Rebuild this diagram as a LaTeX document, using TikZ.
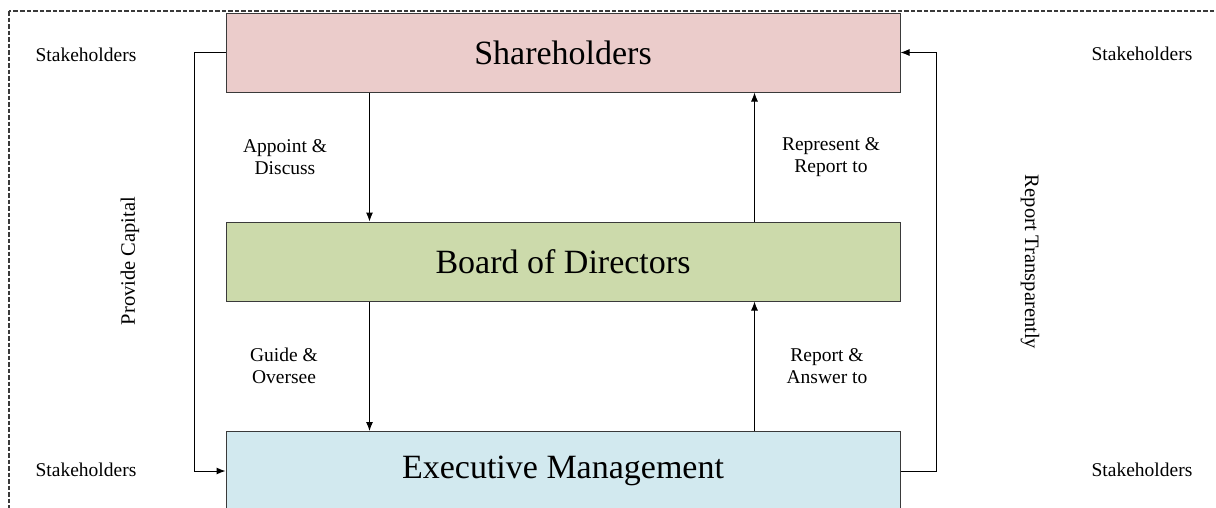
\documentclass[tikz,border=0pt]{standalone}
\usepackage{fontspec}
\setmainfont{Liberation Serif}
\usetikzlibrary{arrows.meta}
\definecolor{shfill}{HTML}{EBCCCB}
\definecolor{bdfill}{HTML}{CCDAAB}
\definecolor{exfill}{HTML}{D2E9EF}
\definecolor{edge}{HTML}{3A3A3A}
\tikzset{
  x=1pt, y=-1pt,
  tier/.style={draw=edge, line width=1pt, minimum width=674pt, minimum height=79pt,
    inner sep=0pt, font=\fontsize{34}{40}\selectfont},
  lbl/.style={align=center, font=\fontsize{19.5}{22}\selectfont, inner sep=0pt},
  side/.style={font=\fontsize{19.5}{22}\selectfont, inner sep=0pt},
  vlbl/.style={font=\fontsize{20.5}{24}\selectfont, inner sep=0pt},
  arr/.style={draw=black, line width=1pt, -{Latex[length=9pt,width=7pt]}},
  link/.style={draw=black, line width=1pt}
}
\begin{document}
\begin{tikzpicture}
\useasboundingbox (0,0) rectangle (1216,507);
\begin{scope}
\clip (0,0) rectangle (1216,507);
% outer dashed frame, running past the page edge on the right and bottom
\draw[dash pattern=on 4.5pt off 2pt, draw=edge, line width=1.1pt] (9,11) rectangle (1230,530);

% three governance tiers
\node[tier, fill=shfill] (sh) at (563,52.5) {Shareholders};
\node[tier, fill=bdfill] (bd) at (563,261.5) {Board of Directors};
\node[tier, fill=exfill] (ex) at (563,471) {Executive Management};

% downward flows
\draw[arr] ([xshift=144pt]sh.south west) -- ([xshift=144pt]bd.north west);
\draw[arr] ([xshift=144pt]bd.south west) -- ([xshift=144pt]ex.north west);
% upward flows
\draw[arr] ([xshift=529pt]bd.north west) -- ([xshift=529pt]sh.south west);
\draw[arr] ([xshift=529pt]ex.north west) -- ([xshift=529pt]bd.south west);

% outer loops
\coordinate (lx) at (194,0);
\coordinate (rx) at (936,0);
\draw[arr] (sh.west) -- (sh.west -| lx) -- (ex.west -| lx) -- (ex.west);
\draw[arr] (ex.east) -- (ex.east -| rx) -- (sh.east -| rx) -- (sh.east);
\end{scope}

% flow labels
\node[lbl] (l1) at (285,157) {Appoint \&\\Discuss};
\node[lbl] (l2) at (831,157) {Represent \&\\Report to};
\node[lbl] (l3) at (284,366) {Guide \&\\Oversee};
\node[lbl] (l4) at (827,366) {Report \&\\Answer to};

\node[vlbl, rotate=90] (pc) at (130,261) {Provide Capital};
\node[vlbl, rotate=-90] (rt) at (1030,262) {Report Transparently};

% stakeholder tags in the corners
\node[side] (s1) at (86,55) {Stakeholders};
\node[side] (s2) at (1142,54) {Stakeholders};
\node[side] (s3) at (86,470) {Stakeholders};
\node[side] (s4) at (1142,470) {Stakeholders};
\end{tikzpicture}
\end{document}
